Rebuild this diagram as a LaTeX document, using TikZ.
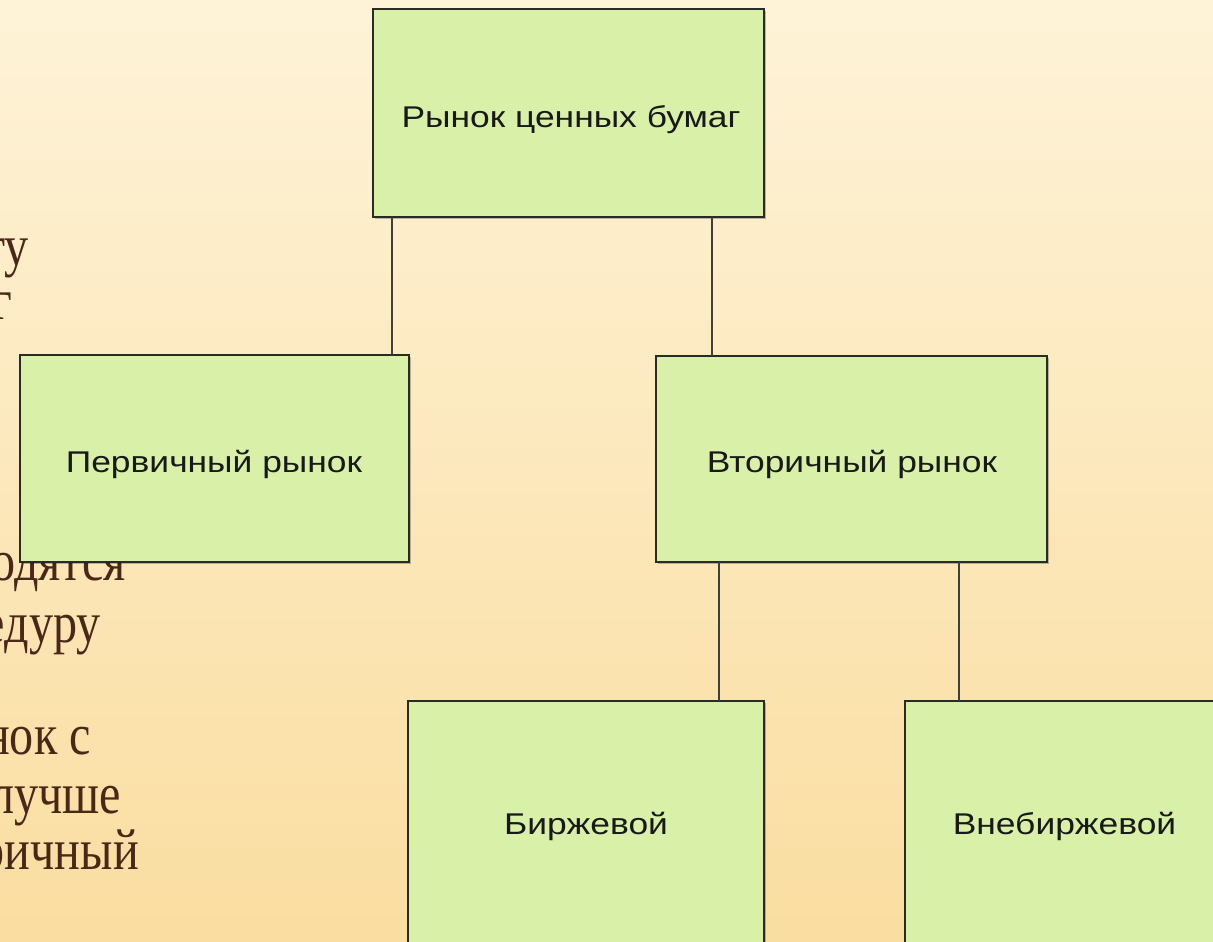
\documentclass[tikz,border=0pt]{standalone}
\usepackage{fontspec}
\setmainfont{Liberation Serif}
\newfontfamily\fragfont[FakeStretch=0.83]{Liberation Serif}
\newfontfamily\boxfont[FakeStretch=1.18]{Liberation Sans}
\usetikzlibrary{shadows}
\definecolor{bgtop}{RGB}{254,243,216}
\definecolor{bgbot}{RGB}{250,221,160}
\definecolor{boxfill}{RGB}{217,240,168}
\definecolor{boxline}{RGB}{40,44,36}
\definecolor{slidetext}{RGB}{74,40,24}
\tikzset{
  mbox/.style={draw=boxline, line width=1.6pt, fill=boxfill, inner sep=0pt, outer sep=0pt,
    drop shadow={shadow xshift=2pt, shadow yshift=-2pt, opacity=0.25, fill=black}},
  blabel/.style={font=\boxfont\fontsize{30}{34}\selectfont, text=black!90, inner sep=0pt, anchor=base},
  link/.style={draw=boxline!90, line width=1.5pt},
  frag/.style={font=\fragfont\fontsize{58}{60}\selectfont, text=slidetext, anchor=base east, inner sep=0pt}
}
\begin{document}
\begin{tikzpicture}[x=1pt,y=-1pt]
\useasboundingbox (0,0) rectangle (1213,942);
\clip (0,0) rectangle (1213,942);
\shade[top color=bgtop, bottom color=bgbot] (0,0) rectangle (1213,942);
% partly hidden slide text at the left edge
\node[frag] (f1) at (29,265) {ту};
\node[frag] (f2) at (12,319) {г};
\node[frag] (f3) at (126,580) {одятся};
\node[frag] (f4) at (101,642) {едуру};
\node[frag] (f5) at (91,754) {нок с};
\node[frag] (f6) at (121,813) {лучше};
\node[frag] (f7) at (139,869) {ричный};
% boxes
\node[mbox, minimum width=391pt, minimum height=208pt] (top) at (568.5,113) {};
\node[mbox, minimum width=389pt, minimum height=207pt] (prim) at (214.5,458.5) {};
\node[mbox, minimum width=391pt, minimum height=206pt] (sec) at (851.5,459) {};
\node[mbox, minimum width=356pt, minimum height=270pt] (exch) at (586,836) {};
\node[mbox, minimum width=319pt, minimum height=270pt] (otc) at (1064.5,836) {};
% labels
\node[blabel] (topl) at (571,127) {Рынок ценных бумаг};
\node[blabel] (priml) at (214,472) {Первичный рынок};
\node[blabel] (secl) at (852,472) {Вторичный рынок};
\node[blabel] (exchl) at (586,834) {Биржевой};
\node[blabel] (otcl) at (1064.5,834) {Внебиржевой};
% connectors
\coordinate (c1) at (392,0);
\coordinate (c2) at (712,0);
\coordinate (c3) at (719,0);
\coordinate (c4) at (959,0);
\draw[link] (top.south -| c1) -- (prim.north -| c1);
\draw[link] (top.south -| c2) -- (sec.north -| c2);
\draw[link] (sec.south -| c3) -- (exch.north -| c3);
\draw[link] (sec.south -| c4) -- (otc.north -| c4);
\end{tikzpicture}
\end{document}
